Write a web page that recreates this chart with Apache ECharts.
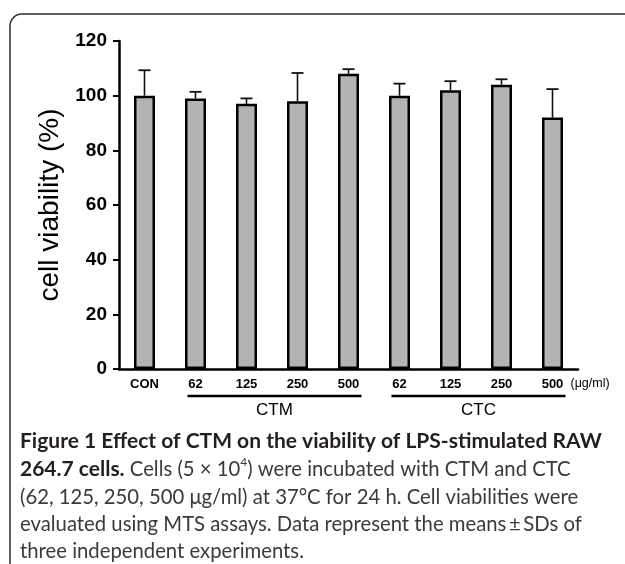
<!DOCTYPE html>
<html>
<head>
<meta charset="utf-8">
<script src="https://cdn.jsdelivr.net/npm/echarts@6/dist/echarts.min.js"></script>
<style>
html,body{margin:0;padding:0;background:#fff;}
#c{width:625px;height:564px;}
</style>
</head>
<body>
<div id="c"></div>
<script>
// ---- data ----
var categories = ['CON', '62', '125', '250', '500', '62', '125', '250', '500'];
var meanValues = [100, 99, 97, 98, 108, 100, 102, 104, 92];
var sdValues   = [9.3, 2.4, 2.0, 10.3, 1.7, 4.4, 3.3, 2.0, 10.4];
var yTicks = [0, 20, 40, 60, 80, 100, 120];
var groups = [
  { name: 'CTM', from: 1, to: 4 },
  { name: 'CTC', from: 5, to: 8 }
];
var unitLabel = '(\u03bcg/ml)';
var yAxisTitle = 'cell viability (%)';

var chart = echarts.init(document.getElementById('c'), null, { renderer: 'canvas' });

var errData = meanValues.map(function (m, i) { return [i, m, m + sdValues[i]]; });

var chartFont = '"Liberation Sans", Arial, sans-serif';
var capFont = 'Lato, "Open Sans", sans-serif';

var option = {
  animation: false,
  backgroundColor: '#fff',
  grid: { left: 119, right: 47, top: 41, bottom: 195, containLabel: false },
  xAxis: {
    type: 'category',
    data: categories,
    axisLine: { show: true, lineStyle: { color: '#000', width: 2.5 } },
    axisTick: { show: false },
    axisLabel: { color: '#000', fontFamily: chartFont, fontWeight: 'bold', fontSize: 13, margin: 9, interval: 0 },
    splitLine: { show: false }
  },
  yAxis: {
    type: 'value',
    min: yTicks[0],
    max: yTicks[yTicks.length - 1],
    interval: 20,
    name: yAxisTitle,
    nameLocation: 'middle',
    nameRotate: 90,
    nameGap: 55,
    nameTextStyle: { color: '#000', fontFamily: chartFont, fontSize: 28 },
    axisLine: { show: true, lineStyle: { color: '#000', width: 2.5 } },
    axisTick: { show: true, inside: false, length: 6, lineStyle: { color: '#000', width: 2 } },
    axisLabel: { color: '#000', fontFamily: chartFont, fontWeight: 'bold', fontSize: 19, margin: 12 },
    splitLine: { show: false }
  },
  series: [
    {
      type: 'custom',
      name: 'sd',
      z: 1,
      renderItem: function (params, api) {
        var i = api.value(0);
        var p0 = api.coord([i, api.value(1)]);
        var p1 = api.coord([i, api.value(2)]);
        var half = 6;
        return {
          type: 'group',
          children: [
            { type: 'line', shape: { x1: p0[0], y1: p0[1], x2: p1[0], y2: p1[1] }, style: { stroke: '#111', lineWidth: 1.6 } },
            { type: 'line', shape: { x1: p1[0] - half, y1: p1[1], x2: p1[0] + half, y2: p1[1] }, style: { stroke: '#111', lineWidth: 1.8 } }
          ]
        };
      },
      encode: { x: 0, y: [1, 2] },
      data: errData
    },
    {
      type: 'bar',
      z: 2,
      data: meanValues,
      barWidth: 21,
      itemStyle: { color: '#b3b3b3', borderColor: '#000', borderWidth: 2.5 }
    }
  ]
};
chart.setOption(option);

function buildGraphics() {
  var els = [];
  // figure frame (rounded, open to the right and bottom)
  els.push({
    type: 'rect', shape: { x: 10, y: 14, width: 700, height: 620, r: 12 },
    style: { fill: null, stroke: '#2a2a2a', lineWidth: 1.5 }, z: 0, silent: true
  });
  var lineY = chart.convertToPixel({ yAxisIndex: 0 }, 0) + 27;
  groups.forEach(function (g) {
    var x1 = chart.convertToPixel({ xAxisIndex: 0 }, g.from) - 8;
    var x2 = chart.convertToPixel({ xAxisIndex: 0 }, g.to) + 13;
    els.push({ type: 'line', shape: { x1: x1, y1: lineY, x2: x2, y2: lineY }, style: { stroke: '#000', lineWidth: 2.5 }, z: 5 });
    els.push({ type: 'text', x: (x1 + x2) / 2, y: lineY + 6,
      style: { text: g.name, fill: '#000', font: '17px ' + chartFont, align: 'center', verticalAlign: 'top' }, z: 5 });
  });
  var lastX = chart.convertToPixel({ xAxisIndex: 0 }, categories.length - 1);
  var labelY = chart.convertToPixel({ yAxisIndex: 0 }, 0) + 15;
  els.push({ type: 'text', x: lastX + 18, y: labelY,
    style: { text: unitLabel, fill: '#000', font: '12.5px ' + chartFont, align: 'left', verticalAlign: 'middle' }, z: 5 });

  // caption
  var capX = 20;
  var lines = [
    { y: 441, rich: '{b|Figure 1 Effect of CTM on the viability of LPS-stimulated RAW}' },
    { y: 469, rich: '{b|264.7 cells.}{r| Cells (5 \u00d7 10}{s|4}{r|) were incubated with CTM and CTC}' },
    { y: 497, rich: '{r|(62, 125, 250, 500 \u03bcg/ml) at 37\u00b0C for 24 h. Cell viabilities were}' },
    { y: 524, rich: '{r|evaluated using MTS assays. Data represent the means\u2009\u00b1\u2009SDs of}' },
    { y: 551, rich: '{r|three independent experiments.}' }
  ];
  lines.forEach(function (l) {
    els.push({ type: 'text', x: capX, y: l.y,
      style: {
        text: l.rich, align: 'left', verticalAlign: 'middle',
        rich: {
          b: { fontFamily: capFont, fontWeight: 'bold', fontSize: 21, fill: '#231f20', lineHeight: 26 },
          r: { fontFamily: capFont, fontWeight: 'normal', fontSize: 20.3, fill: '#3a3a3a', lineHeight: 26 },
          s: { fontFamily: capFont, fontWeight: 'normal', fontSize: 12, fill: '#3a3a3a', verticalAlign: 'top', lineHeight: 26, padding: [0, 0, 10, 0] }
        }
      }, z: 5 });
  });
  chart.setOption({ graphic: { elements: els } });
}
buildGraphics();
</script>
</body>
</html>
